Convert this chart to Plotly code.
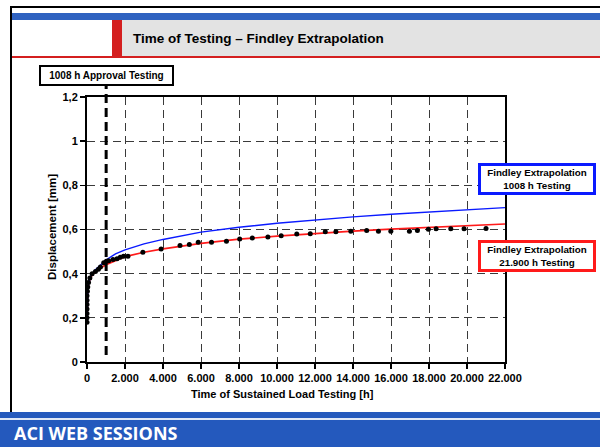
import plotly.graph_objects as go

# ---------------- data ----------------
meas_t = [0, 0, 0, 0, 0, 0, 0, 20, 40, 80, 150, 270, 445, 600, 706, 880, 1020, 1140,
          1370, 1580, 1750, 1925, 2155, 2940, 3900, 4895, 5385, 5855, 6553, 7340, 8037,
          8700, 9520, 10220, 11040, 11750, 12540, 13100, 13885, 14720, 15339, 15991,
          16969, 17390, 17968, 18373, 19146, 19845, 21001]
meas_y = [0.18, 0.20, 0.22, 0.24, 0.26, 0.28, 0.30, 0.32, 0.34, 0.36, 0.38, 0.40, 0.41,
          0.42, 0.43, 0.45, 0.456, 0.459, 0.464, 0.468, 0.474, 0.479, 0.479, 0.497,
          0.512, 0.527, 0.532, 0.542, 0.542, 0.547, 0.557, 0.562, 0.566, 0.572, 0.580,
          0.581, 0.590, 0.590, 0.592, 0.595, 0.592, 0.592, 0.592, 0.595, 0.601, 0.603,
          0.603, 0.603, 0.605]

fit_t = [0, 10, 50, 100, 200, 400, 700, 1000, 1500, 2000, 3000, 4000, 6000, 8000,
         10000, 12000, 14000, 16000, 18000, 20000, 22000]
fit_21900_y = [0.19, 0.28, 0.33, 0.36, 0.385, 0.405, 0.425, 0.44, 0.46, 0.477, 0.497,
               0.512, 0.537, 0.556, 0.570, 0.582, 0.593, 0.602, 0.610, 0.618, 0.625]
fit_1008_y = [0.19, 0.28, 0.33, 0.36, 0.39, 0.415, 0.44, 0.462, 0.49, 0.508, 0.535,
              0.555, 0.588, 0.610, 0.628, 0.644, 0.657, 0.669, 0.680, 0.690, 0.699]

x_tickvals = [0, 2000, 4000, 6000, 8000, 10000, 12000, 14000, 16000, 18000, 20000, 22000]
x_ticktext = ["0", "2.000", "4.000", "6.000", "8.000", "10.000", "12.000", "14.000",
              "16.000", "18.000", "20.000", "22.000"]
y_tickvals = [0, 0.2, 0.4, 0.6, 0.8, 1.0, 1.2]
y_ticktext = ["0", "0,2", "0,4", "0,6", "0,8", "1", "1,2"]

approval_hours = 1008

title_text = "Time of Testing – Findley Extrapolation"
x_title = "Time of Sustained Load Testing [h]"
y_title = "Displacement [mm]"
label_approval = "1008 h Approval Testing"
label_blue = "Findley Extrapolation<br>1008 h Testing"
label_red = "Findley Extrapolation<br>21.900 h Testing"
footer_text = "ACI WEB SESSIONS"

# ---------------- geometry helpers ----------------
W, H = 600, 447
ML, MR, MT, MB = 87, 95, 97, 85
PW, PH = W - ML - MR, H - MT - MB


def px(xp):
    return (xp - ML) / PW


def py(yp):
    return (H - MB - yp) / PH


FONT = "Liberation Sans, Arial, sans-serif"

fig = go.Figure()
fig.add_trace(go.Scatter(x=fit_t, y=fit_21900_y, mode="lines",
                         line=dict(color="#ff1a1a", width=1.7), hoverinfo="skip"))
fig.add_trace(go.Scatter(x=fit_t, y=fit_1008_y, mode="lines",
                         line=dict(color="#0a1aff", width=1.4), hoverinfo="skip"))
fig.add_trace(go.Scatter(x=meas_t, y=meas_y, mode="markers",
                         marker=dict(color="black", size=5, symbol="circle"),
                         hoverinfo="skip"))

shapes = []


def rect(x0, y0, x1, y1, color, layer="above"):
    shapes.append(dict(type="rect", xref="paper", yref="paper",
                       x0=px(x0), x1=px(x1), y0=py(y1), y1=py(y0),
                       fillcolor=color, line=dict(width=0), layer=layer))


# slide decorations
rect(10, 6, 600, 8, "black")            # top border
rect(10, 6, 12, 412, "black")           # left border
rect(12, 13, 600, 20, "#2f62c0")        # top blue band
rect(12, 20, 600, 56, "#e3e3e3")        # header gray
rect(12, 20, 112, 56, "white")          # header white left part
rect(112, 20, 122, 56, "#d41f1f")       # red block
rect(12, 56, 600, 58, "#d41f1f")        # red rule
rect(0, 412, 600, 447, "#2459bd")       # footer band
rect(0, 418, 600, 420, "#dfe8f7")       # footer light line

# 1008 h vertical dashed marker
shapes.append(dict(type="line", xref="x", yref="paper",
                   x0=approval_hours, x1=approval_hours,
                   y0=py(355), y1=py(86),
                   line=dict(color="black", width=3, dash="9px,5px"), layer="above"))

annotations = [
    dict(text="<b>" + title_text + "</b>", xref="paper", yref="paper",
         x=px(131), y=py(38), xanchor="left", yanchor="middle", showarrow=False,
         font=dict(family=FONT, size=13.5, color="black")),
    dict(text="<b>" + x_title + "</b>", xref="paper", yref="paper",
         x=px(282.5), y=py(394), xanchor="center", yanchor="middle", showarrow=False,
         font=dict(family=FONT, size=11, color="black")),
    dict(text="<b>" + y_title + "</b>", xref="paper", yref="paper",
         x=px(52), y=py(227), xanchor="center", yanchor="middle", showarrow=False,
         textangle=-90, font=dict(family=FONT, size=11.5, color="black")),
    dict(text="<b>" + label_approval + "</b>", xref="paper", yref="paper",
         x=px(106.5), y=py(75.5), xanchor="center", yanchor="middle", showarrow=False,
         width=131, height=17, borderpad=0, borderwidth=2, bordercolor="black",
         bgcolor="white", font=dict(family=FONT, size=10, color="black")),
    dict(text="<b>" + label_blue + "</b>", xref="paper", yref="paper",
         x=px(537), y=py(179), xanchor="center", yanchor="middle", showarrow=False,
         width=112, height=26, borderpad=0, borderwidth=3, bordercolor="#0a1aff",
         bgcolor="white", font=dict(family=FONT, size=9.8, color="black")),
    dict(text="<b>" + label_red + "</b>", xref="paper", yref="paper",
         x=px(537), y=py(256), xanchor="center", yanchor="middle", showarrow=False,
         width=112, height=26, borderpad=0, borderwidth=3, bordercolor="#ff1a1a",
         bgcolor="white", font=dict(family=FONT, size=9.8, color="black")),
    dict(text="<b>" + footer_text + "</b>", xref="paper", yref="paper",
         x=px(12), y=py(433), xanchor="left", yanchor="middle", showarrow=False,
         font=dict(family="Open Sans, sans-serif", size=18, color="white")),
]

axis_common = dict(showline=True, linecolor="black", linewidth=2, mirror=True,
                   ticks="outside", ticklen=5, tickwidth=1.5, tickcolor="black",
                   showgrid=True, gridcolor="#3a3a3a", gridwidth=1, griddash="8px,5px",
                   zeroline=False,
                   tickfont=dict(family=FONT, size=11, color="black", weight="bold"))

fig.update_layout(
    width=W, height=H,
    margin=dict(l=ML, r=MR, t=MT, b=MB, pad=0),
    paper_bgcolor="white", plot_bgcolor="white",
    showlegend=False,
    xaxis=dict(range=[0, 22000], tickmode="array", tickvals=x_tickvals,
               ticktext=x_ticktext, **axis_common),
    yaxis=dict(range=[0, 1.2], tickmode="array", tickvals=y_tickvals,
               ticktext=y_ticktext, **axis_common),
    shapes=shapes,
    annotations=annotations,
)

fig.write_html("out.html",
               config={"displayModeBar": False, "staticPlot": True},
               post_script="document.body.style.margin='0px';"
                           "document.body.style.overflow='hidden';")
